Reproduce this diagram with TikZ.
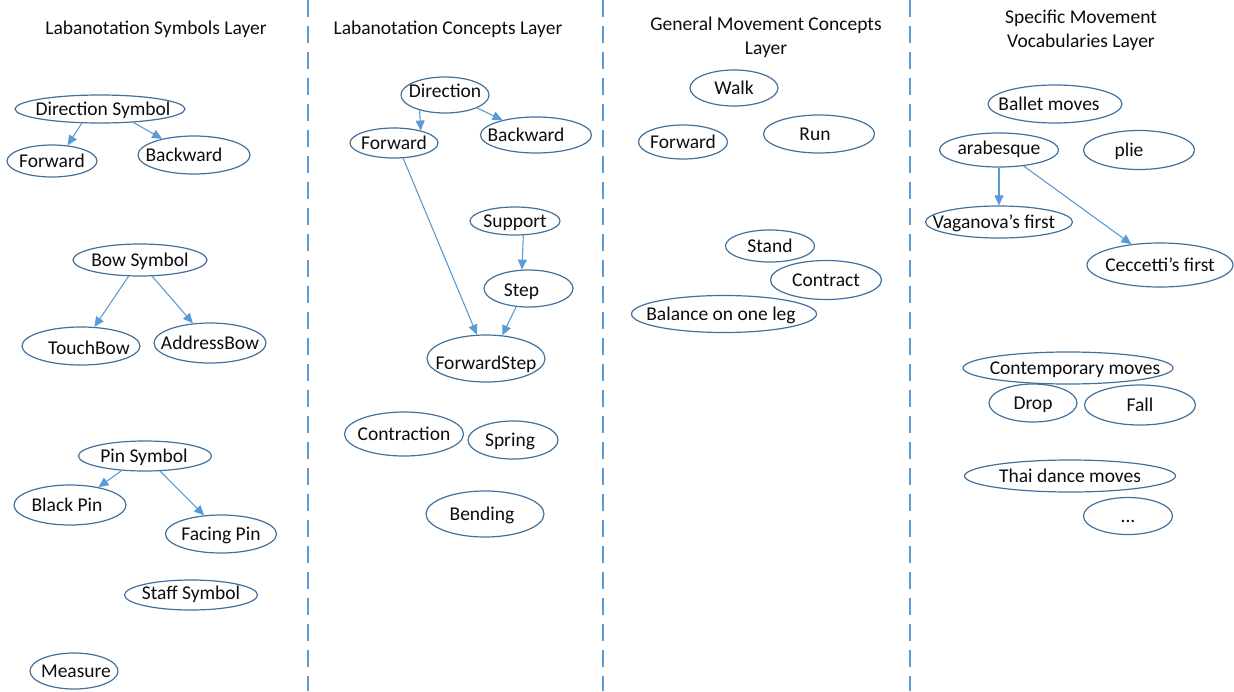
\documentclass[tikz,border=0pt]{standalone}
\usepackage{fontspec}
\setmainfont{Carlito}
\usetikzlibrary{arrows.meta,shapes.geometric}
\definecolor{edgeblue}{HTML}{41719C}
\definecolor{arrowblue}{HTML}{5B9BD5}
\definecolor{txt}{HTML}{0D0D0D}
\begin{document}
\begin{tikzpicture}[x=1pt,y=-1pt,
  el/.style 2 args={ellipse, draw=edgeblue, line width=1.2pt, fill=white, inner sep=0pt,
     minimum width=#1pt, minimum height=#2pt},
  every label/.style={font=\fontsize{19.5}{22}\selectfont, text=txt, text height=12.5pt,
     text depth=0pt, inner sep=0pt},
  hdr/.style={font=\fontsize{19.5}{22}\selectfont, text=txt, text height=12.5pt,
     text depth=0pt, inner sep=0pt},
  arr/.style={draw=arrowblue, line width=1.1pt, -{Triangle[length=10pt,width=9pt]}},
  sep/.style={draw=arrowblue, line width=1.5pt, dash pattern=on 17pt off 9pt}]
\useasboundingbox (0,0) rectangle (1234,691);

% separators
\draw[sep] (308,0) -- (308,691);
\draw[sep] (603,0) -- (603,691);
\draw[sep] (910,0) -- (910,691);

% headers
\node[hdr] (h1) at (156,28) {Labanotation Symbols Layer};
\node[hdr] (h2) at (448,28) {Labanotation Concepts Layer};
\node[hdr] (h3a) at (766,24) {General Movement Concepts};
\node[hdr] (h3b) at (766,48) {Layer};
\node[hdr] (h4a) at (1081,17) {Specific Movement};
\node[hdr] (h4b) at (1081,41) {Vocabularies Layer};

% column 1
\node[el={170}{28}, label={[xshift=3pt]center:Direction Symbol}] (ds) at (100,109) {};
\node[el={90}{32}, label={center:Forward}] (f1) at (52,161) {};
\node[el={112}{38}, label={[xshift=-10pt]center:Backward}] (b1) at (194,155) {};
\node[el={134}{32}, label={center:Bow Symbol}] (bow) at (140,260) {};
\node[el={118}{38}, label={[xshift=8pt,yshift=-2pt]center:TouchBow}] (tb) at (81,346) {};
\node[el={112}{40}, label={center:AddressBow}] (ab) at (210,343) {};
\node[el={133}{30}, label={[xshift=-1pt]center:Pin Symbol}] (pin) at (145,456) {};
\node[el={112}{40}, label={[xshift=-3pt]center:Black Pin}] (bp) at (70,505) {};
\node[el={111}{38}, label={center:Facing Pin}] (fp) at (221,534) {};
\node[el={133}{30}, label={[yshift=2pt]center:Staff Symbol}] (staff) at (191,595) {};
\node[el={88}{36}, label={[xshift=2pt]center:Measure}] (meas) at (74,671) {};

% column 2
\node[el={88}{36}, label={[yshift=4pt]center:Direction}] (dir) at (445,95) {};
\node[el={88}{30}, label={center:Forward}] (fw) at (394,143) {};
\node[el={111}{36}, label={[xshift=-10pt]center:Backward}] (bw) at (536,135) {};
\node[el={90}{28}, label={center:Support}] (sup) at (515,221) {};
\node[el={89}{37}, label={[xshift=-7pt,yshift=-2pt]center:Step}] (step) at (528.5,288.5) {};
\node[el={118}{47}, label={[yshift=-5pt]center:ForwardStep}] (fs) at (486,358.5) {};
\node[el={119}{44}, label={center:Contraction}] (con) at (404,434) {};
\node[el={90}{38}, label={[xshift=-3pt]center:Spring}] (spr) at (513,440) {};
\node[el={118}{46}, label={[xshift=-3pt]center:Bending}] (bend) at (485,514) {};

% column 3
\node[el={88}{36}, label={center:Walk}] (walk) at (734,88) {};
\node[el={89}{34}, label={center:Forward}] (fw3) at (683,142) {};
\node[el={111}{38}, label={[xshift=-4pt]center:Run}] (run) at (819,134) {};
\node[el={89}{32}, label={center:Stand}] (stand) at (770,246) {};
\node[el={111}{39}, label={center:Contract}] (contr) at (826,280) {};
\node[el={185}{37}, label={[xshift=-3pt]center:Balance on one leg}] (bal) at (724,314) {};

% column 4
\node[el={134}{38}, label={[xshift=-6pt]center:Ballet moves}] (ballet) at (1055,104) {};
\node[el={119}{34}, label={[yshift=2pt]center:arabesque}] (arab) at (999,150) {};
\node[el={111}{39}, label={[xshift=-10pt]center:plie}] (plie) at (1139,150) {};
\node[el={147}{32}, label={[xshift=-5pt]center:Vaganova’s first}] (vag) at (999,222) {};
\node[el={146}{44}, label={center:Ceccetti’s first}] (cec) at (1160,265) {};
\node[el={210}{32}, label={[xshift=7pt]center:Contemporary moves}] (contemp) at (1068,368) {};
\node[el={88}{38}, label={center:Drop}] (drop) at (1033,403) {};
\node[el={111}{40}, label={center:Fall}] (fall) at (1140,405) {};
\node[el={211}{32}, label={center:Thai dance moves}] (thai) at (1070,476) {};
\node[el={89}{37}, label={center:...}] (dots) at (1128,516) {};

% connectors
\draw[arr] (ds.218) -- (f1.45);
\draw[arr] (ds.338) -- (b1.153);
\draw[arr] (bow.235) -- (tb.55);
\draw[arr] (bow.307) -- (ab.131);
\draw[arr] (pin.212) -- (bp.32);
\draw[arr] (pin.315) -- (fp.132);
\draw[arr] (dir.211) -- (fw.25);
\draw[arr] (dir.338) -- (bw.156);
\draw[arr] (fw.301) -- (fs.111);
\draw[arr] (sup.300) -- (step.109);
\draw[arr] (step.236) -- (fs.55);
\draw[arr] (arab.south) -- (vag.north);
\draw[arr] (arab.327) -- (cec.144);
\end{tikzpicture}
\end{document}
